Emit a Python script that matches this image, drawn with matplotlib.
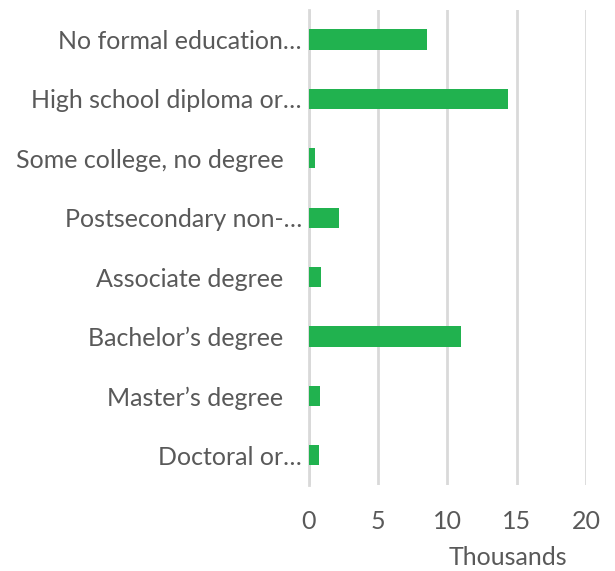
import matplotlib
matplotlib.use("Agg")
import matplotlib.pyplot as plt
from matplotlib.transforms import ScaledTranslation

categories = ["No formal education…", "High school diploma or…", "Some college, no degree ",
              "Postsecondary non-…", "Associate degree ", "Bachelor’s degree ",
              "Master’s degree ", "Doctoral or…"]
values = [8.5, 14.4, 0.48, 2.17, 0.87, 10.98, 0.84, 0.72]
xticks = [0, 5, 10, 15, 20]

plt.rcParams['font.family'] = ['Lato', 'DejaVu Sans']
fig = plt.figure(figsize=(6.15, 5.71), dpi=100)
ax = fig.add_axes([0.502, 0.1506, 0.451, 0.8324])
ypos = list(range(len(categories)))
ax.barh(ypos, values, height=0.34, color="#21B24F", zorder=3)
ax.set_ylim(len(categories) - 0.5, -0.5)
ax.set_xlim(0, 20)
ax.set_xticks(xticks)
ax.set_xticklabels([str(t) for t in xticks], fontsize=18, color="#595959")
ax.set_yticks(ypos)
ax.set_yticklabels(categories, fontsize=18, color="#595959")
ax.tick_params(axis='y', length=0, pad=5)
ax.tick_params(axis='x', length=0, pad=18)
ax.grid(axis='x', color="#D9D9D9", linewidth=2, zorder=0)
for s in ['top', 'right', 'bottom']:
    ax.spines[s].set_visible(False)
ax.spines['left'].set_color("#D9D9D9")
ax.spines['left'].set_linewidth(2)
shift = ScaledTranslation(-0.12, 0, fig.dpi_scale_trans)
for lab in ax.get_yticklabels():
    if lab.get_text().endswith(" "):
        lab.set_transform(lab.get_transform() + shift)
fig.text(0.826, 0.01, "Thousands", fontsize=18, color="#595959", ha='center', va='baseline')
fig.savefig("out.png", dpi=100)
